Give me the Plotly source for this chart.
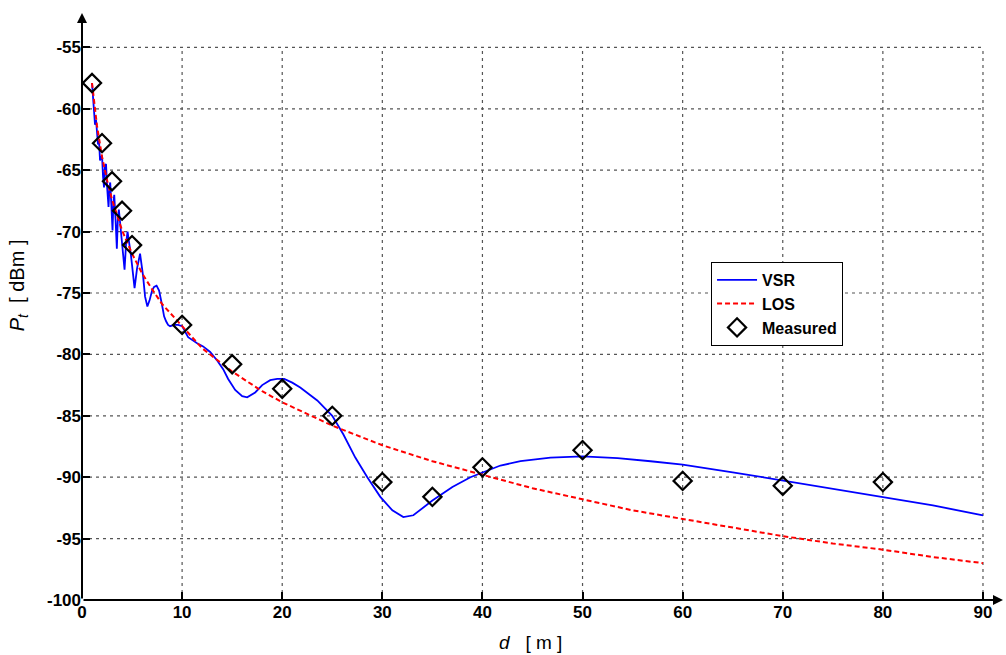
import plotly.graph_objects as go

# ---- data ----
vsr_d = [1.0, 1.1, 1.2, 1.3, 1.4, 1.5, 1.6, 1.7, 1.8, 1.9, 2.0, 2.1, 2.2, 2.3, 2.4,
         2.52, 2.65, 2.75, 2.82, 2.93, 3.05, 3.14, 3.22, 3.35, 3.48, 3.58, 3.68,
         3.95, 4.25, 4.4, 4.55, 4.9, 5.25, 5.5, 5.8, 6.1, 6.3, 6.53, 6.75, 7.0,
         7.2, 7.45, 7.7, 8.0, 8.2, 8.4, 8.6, 8.8, 9.2, 9.6, 10.0, 10.6, 11.5,
         12.1, 12.8, 13.5, 14.1, 14.6, 15.3, 16.0, 16.5, 17.3, 18.0, 18.8, 19.5,
         20.2, 21.0, 21.8, 23.5, 25.0, 26.1, 27.3, 28.5, 29.8, 31.0, 32.1, 33.1,
         35.0, 37.0, 38.8, 40.0, 41.8, 43.8, 46.8, 50.0, 53.5, 56.8, 60.0, 65.0,
         70.0, 75.0, 80.0, 85.0, 90.0]
vsr_p = [-57.9, -59.0, -60.3, -61.3, -60.9, -62.3, -62.9, -62.6, -64.2, -64.0, -63.8,
         -65.5, -66.4, -64.6, -64.5, -66.5, -68.0, -66.3, -66.0, -67.8, -69.9, -67.6,
         -67.0, -69.0, -71.4, -69.0, -68.2, -70.5, -73.1, -71.0, -70.0, -72.0, -74.6,
         -73.0, -71.8, -73.6, -75.3, -76.1, -75.6, -74.8, -74.5, -74.4, -74.8, -76.0,
         -76.9, -77.3, -77.6, -77.7, -77.6, -77.6, -77.7, -78.6, -79.1, -79.35, -79.8,
         -80.5, -81.2, -82.0, -82.9, -83.4, -83.5, -83.1, -82.5, -82.1, -82.0, -82.0,
         -82.3, -82.7, -83.75, -85.0, -86.5, -88.4, -90.0, -91.6, -92.7, -93.25, -93.1,
         -91.9, -90.8, -90.0, -89.6, -89.05, -88.7, -88.4, -88.3, -88.45, -88.7, -88.97,
         -89.6, -90.26, -90.94, -91.6, -92.3, -93.1]

los_d = [1, 1.5, 2, 2.5, 3, 4, 5, 6, 7, 8, 10, 12, 15, 18, 20, 25, 30, 35, 40, 45,
         50, 55, 60, 65, 70, 75, 80, 85, 90]
los_p = [-57.9, -61.4, -63.9, -65.8, -67.4, -69.9, -71.8, -73.4, -74.7, -75.9, -77.7,
         -79.5, -81.4, -83.0, -83.9, -85.8, -87.4, -88.7, -89.8, -90.9, -91.8, -92.7,
         -93.4, -94.1, -94.8, -95.4, -95.9, -96.5, -97.0]

meas_d = [1, 2, 3, 4, 5, 10, 15, 20, 25, 30, 35, 40, 50, 60, 70, 80]
meas_p = [-57.9, -62.8, -65.9, -68.3, -71.1, -77.6, -80.8, -82.8, -85.0, -90.4,
          -91.6, -89.2, -87.8, -90.3, -90.7, -90.4]

x_ticks = [0, 10, 20, 30, 40, 50, 60, 70, 80, 90]
y_ticks = [-100, -95, -90, -85, -80, -75, -70, -65, -60, -55]

FONT = "Liberation Sans, Arial, sans-serif"

fig = go.Figure()
fig.add_trace(go.Scatter(x=vsr_d, y=vsr_p, mode="lines", name="VSR",
                         line=dict(color="#0000FF", width=1.8)))
fig.add_trace(go.Scatter(x=los_d, y=los_p, mode="lines", name="LOS",
                         line=dict(color="#FF0000", width=2, dash="5px,3px")))
fig.add_trace(go.Scatter(x=meas_d, y=meas_p, mode="markers", name="Measured",
                         marker=dict(symbol="diamond-open", size=14, color="black",
                                     line=dict(color="black", width=2.2))))

# grid (dashed, limited to the tick box)
shapes = []
for xv in x_ticks[1:]:
    shapes.append(dict(type="line", xref="x", yref="y", x0=xv, x1=xv,
                       y0=y_ticks[0], y1=y_ticks[-1], layer="below",
                       line=dict(color="#555555", width=1.2, dash="3px,4px")))
for yv in y_ticks[1:]:
    shapes.append(dict(type="line", xref="x", yref="y", x0=x_ticks[0], x1=x_ticks[-1],
                       y0=yv, y1=yv, layer="below",
                       line=dict(color="#555555", width=1.2, dash="3px,4px")))

annotations = [
    # axis arrows
    dict(x=92, y=-100, ax=0, ay=-100, xref="x", yref="y", axref="x", ayref="y",
         text="", showarrow=True, arrowhead=2, arrowsize=1, arrowwidth=2,
         arrowcolor="black"),
    dict(x=0, y=-52.2, ax=0, ay=-100, xref="x", yref="y", axref="x", ayref="y",
         text="", showarrow=True, arrowhead=2, arrowsize=1, arrowwidth=2,
         arrowcolor="black"),
    # axis titles
    dict(xref="paper", yref="paper", x=0.4875, y=0, yshift=-42, xanchor="center",
         yanchor="middle", showarrow=False,
         text="<i>d</i>\u00a0\u00a0\u00a0[\u00a0m\u00a0]",
         font=dict(family=FONT, size=19, color="black")),
    dict(xref="paper", yref="paper", x=-0.069, y=0.537, xanchor="center",
         yanchor="middle", showarrow=False, textangle=-90,
         text="<i>P</i><sub><i>t</i></sub>\u00a0\u00a0[\u00a0dBm\u00a0]",
         font=dict(family=FONT, size=20, color="black")),
]

fig.update_layout(
    width=1006, height=655,
    margin=dict(l=82, r=3, t=13, b=55, autoexpand=False),
    paper_bgcolor="white", plot_bgcolor="white",
    showlegend=True,
    legend=dict(x=0.683, y=0.576, xanchor="left", yanchor="top",
                bgcolor="white", bordercolor="black", borderwidth=1,
                itemwidth=40, tracegroupgap=0,
                font=dict(family=FONT, size=16, color="black", weight="bold")),
    shapes=shapes, annotations=annotations,
    xaxis=dict(range=[0, 92], tickvals=x_ticks, ticktext=[str(v) for v in x_ticks],
               showgrid=False, zeroline=False, showline=False, automargin=False,
               ticks="inside", ticklen=8, tickwidth=2, tickcolor="black",
               tickfont=dict(family=FONT, size=17, color="black", weight="bold")),
    yaxis=dict(range=[-100, -52.2], tickvals=y_ticks, ticktext=[str(v) for v in y_ticks],
               showgrid=False, zeroline=False, showline=False, automargin=False,
               ticks="inside", ticklen=8, tickwidth=2, tickcolor="black",
               tickfont=dict(family=FONT, size=17, color="black", weight="bold")),
)

fig.write_html("out.html", config={"displayModeBar": False},
               post_script="document.body.style.margin='0px';"
                           "document.body.style.overflow='hidden';")
